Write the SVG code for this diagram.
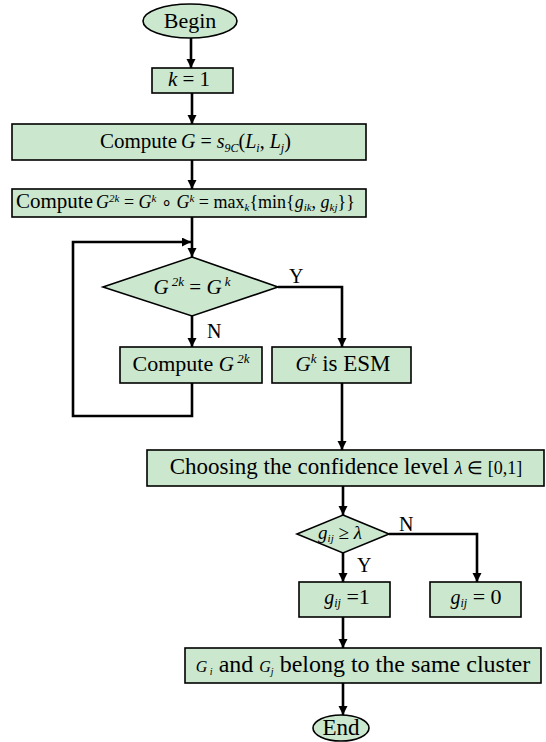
<svg xmlns="http://www.w3.org/2000/svg" width="546" height="742" viewBox="0 0 546 742">
<defs>
<marker id="ah" markerWidth="10" markerHeight="10" refX="9" refY="4.5" orient="auto" markerUnits="userSpaceOnUse">
<path d="M0,0 L9,4.5 L0,9 z" fill="#000"/>
</marker>
<style>
.n{fill:#CBE7CE;stroke:#000;stroke-width:1.6}
.t{font-family:"Liberation Serif","Times New Roman",serif;fill:#000}
.m{font-style:italic}
.c{fill:none;stroke:#000;stroke-width:2.6;marker-end:url(#ah)}
.l{font-family:"Liberation Serif","Times New Roman",serif;font-size:20px;fill:#000}
</style>
</defs>
<g id="connectors">
<path class="c" d="M191,38 V68"/>
<path class="c" d="M192,93 V124"/>
<path class="c" d="M192,160 V189"/>
<path class="c" d="M192,217 V257"/>
<path class="c" d="M192,383 V416 H73 V242 H191"/>
<path class="c" d="M192,316 V347"/>
<path class="c" d="M278,287 H342 V347"/>
<path class="c" d="M342,383 V450"/>
<path class="c" d="M343,486 V515"/>
<path class="c" d="M343,553 V582"/>
<path class="c" d="M389,534 H477 V582"/>
<path class="c" d="M343,617 V648"/>
<path class="c" d="M343,683 V715"/>
<text class="l" x="289" y="283">Y</text>
<text class="l" x="207" y="338">N</text>
<text class="l" x="399" y="531">N</text>
<text class="l" x="357" y="572">Y</text>
</g>
<g id="begin">
<ellipse class="n" cx="190" cy="21" rx="47" ry="17"/>
<text class="t" x="190" y="28" text-anchor="middle" font-size="22">Begin</text>
</g>
<g id="k1">
<rect class="n" x="152" y="68" width="81" height="25"/>
<text class="t" x="189" y="86" text-anchor="middle" font-size="21"><tspan class="m">k</tspan> = 1</text>
</g>
<g id="computeG">
<rect class="n" x="12" y="124" width="354" height="36"/>
<text class="t" x="100" y="148" font-size="21">Compute<tspan x="181" class="m" font-size="20">G</tspan><tspan font-size="20"> = </tspan><tspan class="m" font-size="20">s</tspan><tspan class="m" font-size="12" dy="4">9C</tspan><tspan font-size="20" dy="-4">(</tspan><tspan class="m" font-size="20">L</tspan><tspan class="m" font-size="12" dy="4">i</tspan><tspan font-size="20" dy="-4">, </tspan><tspan class="m" font-size="20">L</tspan><tspan class="m" font-size="12" dy="4">j</tspan><tspan font-size="20" dy="-4">)</tspan></text>
</g>
<g id="computeG2k">
<rect class="n" x="12" y="189" width="354" height="28"/>
<text class="t" x="16" y="208" font-size="21">Compute<tspan x="96" class="m" font-size="18">G</tspan><tspan class="m" font-size="11" dy="-6">2k</tspan><tspan font-size="18" dy="6"> = </tspan><tspan class="m" font-size="18">G</tspan><tspan class="m" font-size="11" dy="-6">k</tspan><tspan font-size="18" dy="6"> ∘ </tspan><tspan class="m" font-size="18">G</tspan><tspan class="m" font-size="11" dy="-6">k</tspan><tspan font-size="18" dy="6"> = max</tspan><tspan class="m" font-size="11" dy="3">k</tspan><tspan font-size="18" dy="-3">{min{</tspan><tspan class="m" font-size="18">g</tspan><tspan class="m" font-size="11" dy="3">ik</tspan><tspan font-size="18" dy="-3">, </tspan><tspan class="m" font-size="18">g</tspan><tspan class="m" font-size="11" dy="3">kj</tspan><tspan font-size="18" dy="-3">}}</tspan></text>
</g>
<g id="decision1">
<polygon class="n" points="192,257 278,287 192,316 103,287"/>
<text class="t" x="192" y="294" text-anchor="middle" font-size="21"><tspan class="m" font-size="21">G</tspan><tspan class="m" font-size="13" dy="-8"> 2k</tspan><tspan font-size="21" dy="8"> = </tspan><tspan class="m" font-size="21">G</tspan><tspan class="m" font-size="13" dy="-8"> k</tspan></text>
</g>
<g id="computeG2kbox">
<rect class="n" x="120" y="347" width="142" height="36"/>
<text class="t" x="191" y="371" text-anchor="middle" font-size="22">Compute <tspan class="m" font-size="21">G</tspan><tspan class="m" font-size="13" dy="-8"> 2k</tspan></text>
</g>
<g id="esm">
<rect class="n" x="272" y="347" width="139" height="36"/>
<text class="t" x="343" y="371" text-anchor="middle" font-size="23"><tspan class="m" font-size="21">G</tspan><tspan class="m" font-size="13" dy="-8">k</tspan><tspan dy="8"> is ESM</tspan></text>
</g>
<g id="choosing">
<rect class="n" x="147" y="450" width="397" height="36"/>
<text class="t" x="346" y="474" text-anchor="middle" font-size="23">Choosing the confidence level <tspan class="m" font-size="19">λ</tspan><tspan font-size="18"> ∈ [0,1]</tspan></text>
</g>
<g id="decision2">
<polygon class="n" points="343,515 389,534 343,553 297,534"/>
<text class="t" x="340" y="539" text-anchor="middle" font-size="19"><tspan class="m" font-size="19">g</tspan><tspan class="m" font-size="11" dy="3">ij</tspan><tspan font-size="19" dy="-3"> ≥ </tspan><tspan class="m" font-size="19">λ</tspan></text>
</g>
<g id="g1">
<rect class="n" x="299" y="582" width="91" height="35"/>
<text class="t" x="347" y="604" text-anchor="middle" font-size="22"><tspan class="m" font-size="20">g</tspan><tspan class="m" font-size="12" dy="3">ij</tspan><tspan dy="-3"> =1</tspan></text>
</g>
<g id="g0">
<rect class="n" x="430" y="582" width="91" height="35"/>
<text class="t" x="476" y="604" text-anchor="middle" font-size="22"><tspan class="m" font-size="20">g</tspan><tspan class="m" font-size="12" dy="3">ij</tspan><tspan dy="-3"> = 0</tspan></text>
</g>
<g id="cluster">
<rect class="n" x="185" y="648" width="356" height="35"/>
<text class="t" x="363" y="672" text-anchor="middle" font-size="24"><tspan class="m" font-size="16">G</tspan><tspan class="m" font-size="10" dy="3"> i</tspan><tspan dy="-3"> and </tspan><tspan class="m" font-size="16">G</tspan><tspan class="m" font-size="10" dy="3">j</tspan><tspan dy="-3"> belong to the same cluster</tspan></text>
</g>
<g id="end">
<ellipse class="n" cx="341" cy="728" rx="28" ry="13"/>
<text class="t" x="341" y="735" text-anchor="middle" font-size="23">End</text>
</g>
</svg>
